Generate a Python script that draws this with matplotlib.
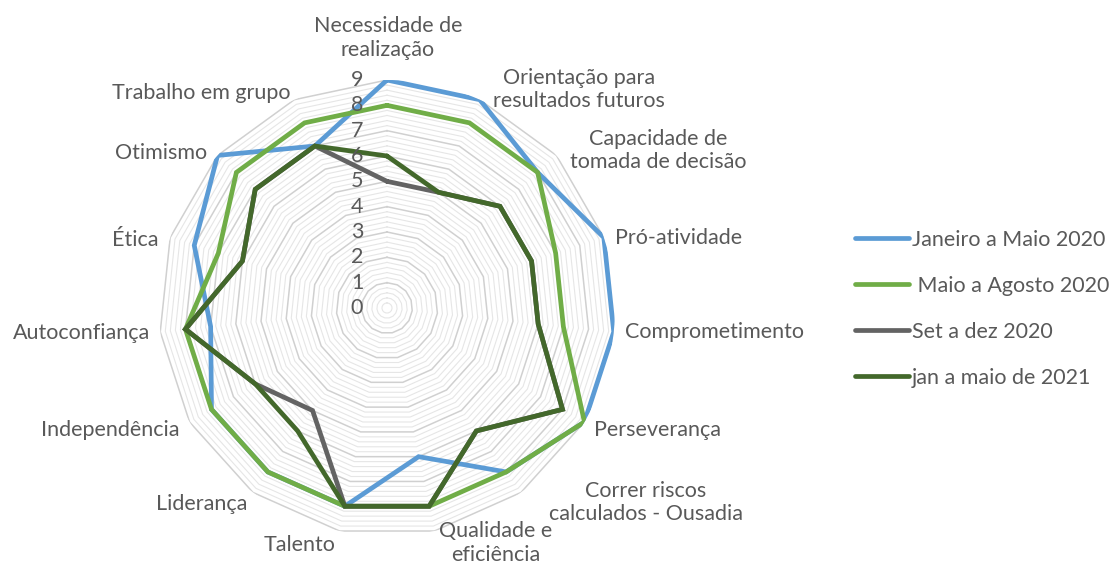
import numpy as np
import matplotlib
matplotlib.use("Agg")
import matplotlib.pyplot as plt

# Competências avaliadas (sentido horário, a partir do topo)
categorias = [
    "Necessidade de\nrealização",
    "Orientação para\nresultados futuros",
    "Capacidade de\ntomada de decisão",
    "Pró-atividade",
    "Comprometimento",
    "Perseverança",
    "Correr riscos\ncalculados - Ousadia",
    "Qualidade e\neficiência",
    "Talento",
    "Liderança",
    "Independência",
    "Autoconfiança",
    "Ética",
    "Otimismo",
    "Trabalho em grupo",
]

periodos = ["Janeiro a Maio 2020", " Maio a Agosto 2020", "Set a dez 2020", "jan a maio de 2021"]

jan_mai_2020 = [9, 9, 8, 9, 9, 9, 8, 6, 8, 8, 8, 7, 8, 9, 7]
mai_ago_2020 = [8, 8, 8, 7, 7, 9, 8, 8, 8, 8, 8, 8, 7, 8, 8]
set_dez_2020 = [5, 5, 6, 6, 6, 8, 6, 8, 8, 5, 6, 8, 6, 7, 7]
jan_mai_2021 = [6, 5, 6, 6, 6, 8, 6, 8, 8, 6, 6, 8, 6, 7, 7]

series = [jan_mai_2020, mai_ago_2020, set_dez_2020, jan_mai_2021]
cores = ["#5B9BD5", "#70AD47", "#636363", "#43682B"]

escala = list(range(0, 10))

TXT = "#595959"
FS = 15.5
plt.rcParams["font.family"] = ["Lato", "DejaVu Sans"]

fig = plt.figure(figsize=(11.17, 5.68), dpi=100)
W, H = 1117, 568
cx, cy, R = 387, 308, 228
ax = fig.add_axes([(cx - R) / W, (H - cy - R) / H, 2 * R / W, 2 * R / H], projection="polar")
ax.set_theta_offset(np.pi / 2)
ax.set_theta_direction(-1)
ax.set_ylim(0, 9)
ax.grid(False)
ax.spines["polar"].set_visible(False)
ax.set_xticks([])
ax.set_yticks([])
ax.patch.set_alpha(0)

n = len(categorias)
ang = np.linspace(0, 2 * np.pi, n, endpoint=False)
ang_fech = np.append(ang, ang[0])

# Grade poligonal: linhas secundárias a cada 0,2 e principais a cada 1
for r in np.arange(0.2, 9.001, 0.2):
    principal = abs(r - round(r)) < 1e-6
    ax.plot(ang_fech, [r] * (n + 1),
            color="#d0d0d0" if principal else "#e6e6e6",
            lw=1.1 if principal else 0.8, zorder=1)

# Séries
for vals, cor, nome in zip(series, cores, periodos):
    v = list(vals) + [vals[0]]
    ax.plot(ang_fech, v, color=cor, lw=3.4, label=nome, zorder=3,
            solid_joinstyle="miter", solid_capstyle="round")

# Rótulos da escala
for k in escala:
    ax.annotate(str(k), xy=(0, k), xytext=(-30, 0), textcoords="offset pixels",
                ha="center", va="center", fontsize=FS, color=TXT, zorder=4)

# Posição dos rótulos das categorias (deslocamento em pixels, alinhamento)
desloc = [
    ((1, 42), "center"),
    ((99, 10), "center"),
    ((102, 5), "center"),
    ((11, 0), "left"),
    ((11, 0), "left"),
    ((10, -8), "left"),
    ((125, -10), "center"),
    ((61, -12), "center"),
    ((-40, -14), "center"),
    ((-6, -12), "right"),
    ((-10, -8), "right"),
    ((-10, -1), "right"),
    ((-12, -2), "right"),
    ((-10, 2), "right"),
    ((-4, 7), "right"),
]
for a, txt, (off, ha) in zip(ang, categorias, desloc):
    ax.annotate(txt, xy=(a, 9), xytext=off, textcoords="offset pixels",
                ha=ha, va="center", fontsize=FS, color=TXT,
                linespacing=1.2, zorder=4, annotation_clip=False)

fig.legend(loc="upper left", bbox_to_anchor=(855 / W, 1 - 230 / H),
           frameon=False, fontsize=FS, labelcolor=TXT, handlelength=2.5,
           handletextpad=0.15, labelspacing=1.2, borderpad=0, borderaxespad=0)

fig.savefig("out.png", dpi=100)
